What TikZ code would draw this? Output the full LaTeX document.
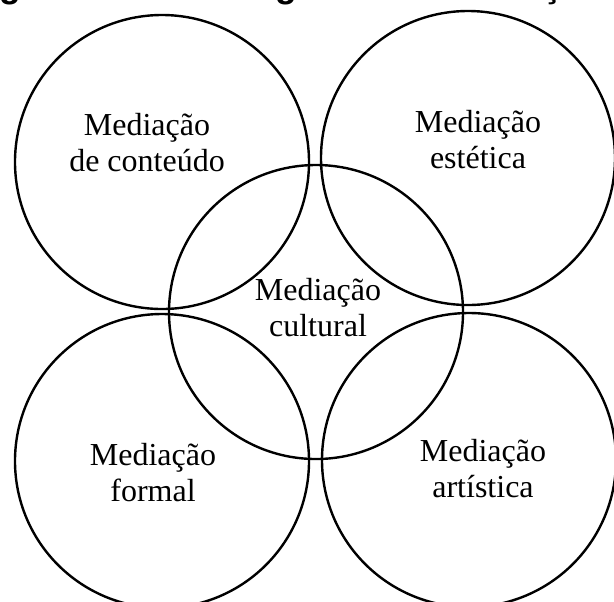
\documentclass[tikz,border=0pt]{standalone}
\usepackage{fontspec}
\setmainfont{Liberation Serif}
\newfontfamily\titlefont{Liberation Sans}

\begin{document}
\begin{tikzpicture}[
x=0.5pt, y=-0.5pt,
every node/.style={align=center, inner sep=0pt, font=\fontsize{16}{18}\selectfont},
ring/.style={circle, draw=black, line width=1.2pt, minimum size=147pt}
]

\useasboundingbox (0,0) rectangle (614,601);

% Title (cut by the page edge)
\node (title) [anchor=base west, font=\titlefont\bfseries\fontsize{17.7}{20}\selectfont] at (-32,-3) {Figura 1 -- As categorias de Mediação};

% Circles
\node (conteudo) [ring] at (162,162) {};
\node (estetica) [ring] at (468,158) {};
\node (cultural) [ring] at (316,312) {};
\node (formal) [ring] at (162,461) {};
\node (artistica) [ring] at (469,460) {};

% Labels
\node (tconteudo) at (147,143) {Mediação\\de conteúdo};
\node (testetica) at (478,140) {Mediação\\estética};
\node (tcultural) at (318,308) {Mediação\\cultural};
\node (tformal) at (153,473) {Mediação\\formal};
\node (tartistica) at (483,469) {Mediação\\artística};

\end{tikzpicture}
\end{document}
